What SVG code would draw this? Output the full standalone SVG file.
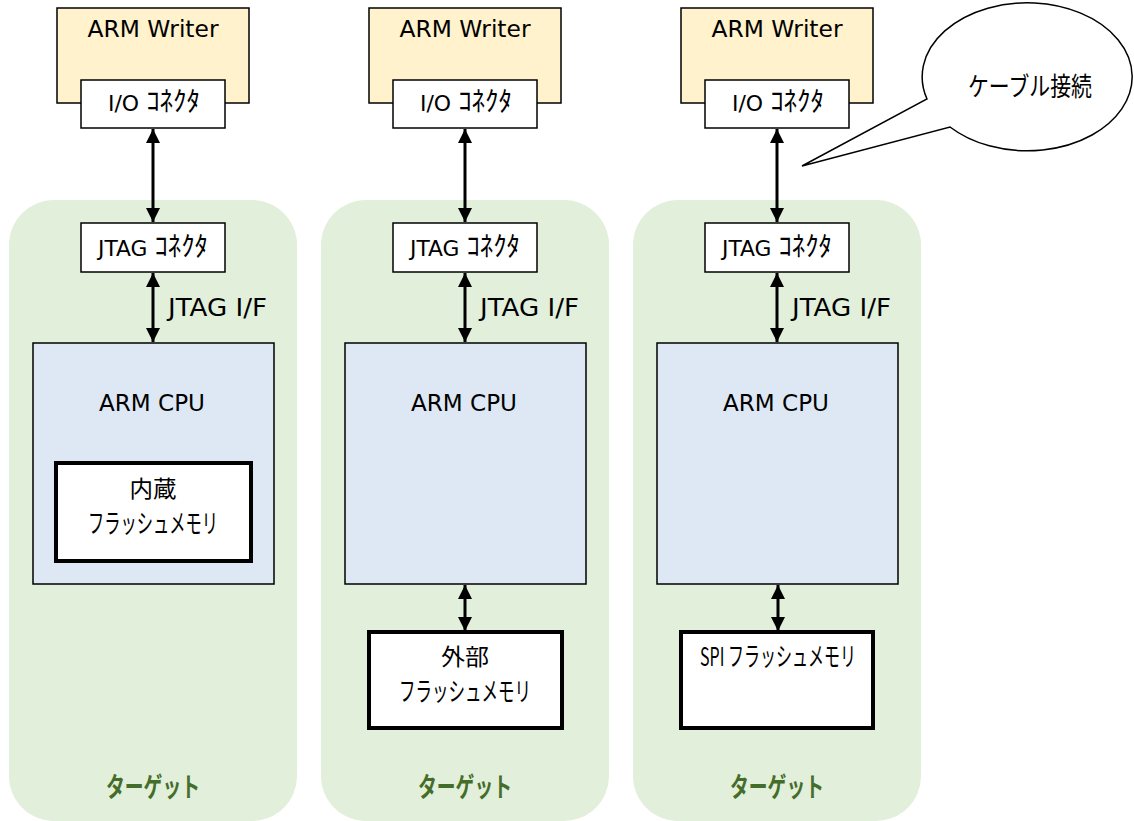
<svg xmlns="http://www.w3.org/2000/svg" width="1134" height="821" viewBox="0 0 1134 821">
<defs>
<marker id="ah" viewBox="0 0 14 15" refX="14" refY="7" markerWidth="14" markerHeight="15" markerUnits="userSpaceOnUse" orient="auto-start-reverse">
<path d="M0,0 L14,7 L0,14 z" fill="#000"/>
</marker>
<style>
.tgt{fill:#e2efda;stroke:none}
.wr{fill:#fff2cc;stroke:#000;stroke-width:1.5}
.box{fill:#fff;stroke:#000;stroke-width:1.5}
.cpu{fill:#dde8f4;stroke:#000;stroke-width:1.5}
.fl{fill:#fff;stroke:#000;stroke-width:4}
.con{stroke:#000;stroke-width:3;fill:none;marker-start:url(#ah);marker-end:url(#ah)}
text{font-family:"DejaVu Sans","Noto Sans CJK JP",sans-serif;fill:#000;text-anchor:middle}
.jp{font-family:"Noto Sans CJK JP",sans-serif}
.k{font-family:"Noto Sans CJK JP",sans-serif;font-size:27px}
.t23{font-size:23px}
.t22{font-size:22px}
.t24{font-size:24px}
.t26{font-size:26px}
.lbl{font-family:"Noto Sans CJK JP",sans-serif;font-size:27px;font-weight:bold;fill:#456d2a}
</style>
</defs>

<g id="target1"><rect class="tgt" x="9" y="200" width="288" height="621" rx="45"/><text class="lbl" x="153" y="797" textLength="94" lengthAdjust="spacingAndGlyphs">ターゲット</text></g>
<g id="target2"><rect class="tgt" x="321" y="200" width="288" height="621" rx="45"/><text class="lbl" x="465" y="797" textLength="94" lengthAdjust="spacingAndGlyphs">ターゲット</text></g>
<g id="target3"><rect class="tgt" x="633" y="200" width="288" height="621" rx="45"/><text class="lbl" x="777" y="797" textLength="94" lengthAdjust="spacingAndGlyphs">ターゲット</text></g>

<g id="writer1"><rect class="wr" x="57" y="8" width="192" height="95"/><text class="t23" x="153" y="37" textLength="131" lengthAdjust="spacingAndGlyphs">ARM Writer</text></g>
<g id="writer2"><rect class="wr" x="369" y="8" width="192" height="95"/><text class="t23" x="465" y="37" textLength="131" lengthAdjust="spacingAndGlyphs">ARM Writer</text></g>
<g id="writer3"><rect class="wr" x="681" y="8" width="192" height="95"/><text class="t23" x="777" y="37" textLength="131" lengthAdjust="spacingAndGlyphs">ARM Writer</text></g>

<g id="io1"><rect class="box" x="81" y="80" width="144" height="48"/><text class="t22" x="154" y="111" textLength="92" lengthAdjust="spacingAndGlyphs">I/O <tspan class="k">ｺﾈｸﾀ</tspan></text></g>
<g id="io2"><rect class="box" x="393" y="80" width="144" height="48"/><text class="t22" x="466" y="111" textLength="92" lengthAdjust="spacingAndGlyphs">I/O <tspan class="k">ｺﾈｸﾀ</tspan></text></g>
<g id="io3"><rect class="box" x="705" y="80" width="144" height="48"/><text class="t22" x="778" y="111" textLength="92" lengthAdjust="spacingAndGlyphs">I/O <tspan class="k">ｺﾈｸﾀ</tspan></text></g>

<g id="jtag1"><rect class="box" x="81" y="223" width="144" height="49"/><text class="t22" x="153" y="256" textLength="110" lengthAdjust="spacingAndGlyphs">JTAG <tspan class="k">ｺﾈｸﾀ</tspan></text></g>
<g id="jtag2"><rect class="box" x="393" y="223" width="144" height="49"/><text class="t22" x="465" y="256" textLength="110" lengthAdjust="spacingAndGlyphs">JTAG <tspan class="k">ｺﾈｸﾀ</tspan></text></g>
<g id="jtag3"><rect class="box" x="705" y="223" width="144" height="49"/><text class="t22" x="777" y="256" textLength="110" lengthAdjust="spacingAndGlyphs">JTAG <tspan class="k">ｺﾈｸﾀ</tspan></text></g>

<g id="cpu1"><rect class="cpu" x="33" y="343" width="241" height="241"/><text class="t23" x="152" y="411" textLength="106" lengthAdjust="spacingAndGlyphs">ARM CPU</text></g>
<g id="cpu2"><rect class="cpu" x="345" y="343" width="241" height="241"/><text class="t23" x="464" y="411" textLength="106" lengthAdjust="spacingAndGlyphs">ARM CPU</text></g>
<g id="cpu3"><rect class="cpu" x="657" y="343" width="241" height="241"/><text class="t23" x="776" y="411" textLength="106" lengthAdjust="spacingAndGlyphs">ARM CPU</text></g>

<g id="flash1"><rect class="fl" x="56" y="463" width="195" height="98"/>
<text class="jp t23" x="153" y="497" textLength="47" lengthAdjust="spacingAndGlyphs">内蔵</text>
<text class="jp t26" x="153" y="533" textLength="130" lengthAdjust="spacingAndGlyphs">フラッシュメモリ</text></g>
<g id="flash2"><rect class="fl" x="369" y="632" width="193" height="96"/>
<text class="jp t23" x="465" y="665" textLength="48" lengthAdjust="spacingAndGlyphs">外部</text>
<text class="jp t26" x="465" y="701" textLength="132" lengthAdjust="spacingAndGlyphs">フラッシュメモリ</text></g>
<g id="flash3"><rect class="fl" x="681" y="632" width="192" height="96"/>
<text class="jp t26" x="778" y="666" textLength="156" lengthAdjust="spacingAndGlyphs">SPI フラッシュメモリ</text></g>

<g id="connectors">
<line class="con" x1="153" y1="129" x2="153" y2="222"/>
<line class="con" x1="465" y1="129" x2="465" y2="222"/>
<line class="con" x1="777" y1="129" x2="777" y2="222"/>
<line class="con" x1="153" y1="273" x2="153" y2="342"/>
<line class="con" x1="465" y1="273" x2="465" y2="342"/>
<line class="con" x1="777" y1="273" x2="777" y2="342"/>
<line class="con" x1="465" y1="585" x2="465" y2="631"/>
<line class="con" x1="778" y1="585" x2="778" y2="631"/>
</g>
<g id="jtagif-labels">
<text class="t24" x="168" y="316" style="text-anchor:start" textLength="99" lengthAdjust="spacingAndGlyphs">JTAG I/F</text>
<text class="t24" x="480" y="316" style="text-anchor:start" textLength="99" lengthAdjust="spacingAndGlyphs">JTAG I/F</text>
<text class="t24" x="792" y="316" style="text-anchor:start" textLength="99" lengthAdjust="spacingAndGlyphs">JTAG I/F</text>
</g>

<g id="callout">
<path d="M927,99 A105,74 0 1 1 950,127 L802,166 Z" fill="#fff" stroke="#000" stroke-width="1.5"/>
<text class="jp t26" x="1030" y="96" textLength="124" lengthAdjust="spacingAndGlyphs">ケーブル接続</text>
</g>
</svg>
